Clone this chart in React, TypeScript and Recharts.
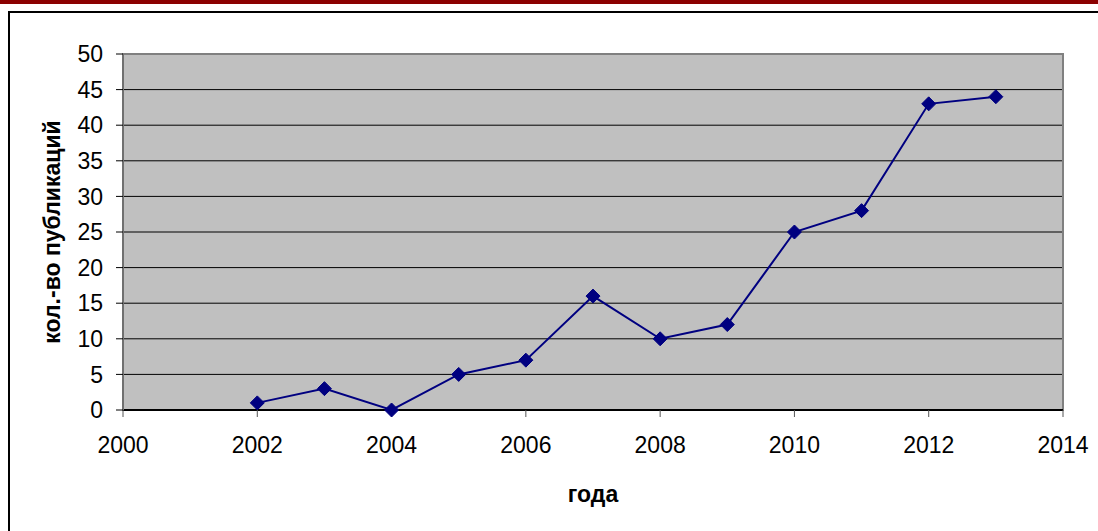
import React from "react";
import {
  LineChart,
  Line,
  XAxis,
  YAxis,
  CartesianGrid,
  ReferenceArea,
  Label,
} from "recharts";

const years = [2002, 2003, 2004, 2005, 2006, 2007, 2008, 2009, 2010, 2011, 2012, 2013];
const publications = [1, 3, 0, 5, 7, 16, 10, 12, 25, 28, 43, 44];
const xTicks = [2000, 2002, 2004, 2006, 2008, 2010, 2012, 2014];
const yTicks = [0, 5, 10, 15, 20, 25, 30, 35, 40, 45, 50];
const gridValues = [5, 10, 15, 20, 25, 30, 35, 40, 45];
const xTitle = "года";
const yTitle = "кол.-во публикаций";

const data = years.map((y, i) => ({ year: y, value: publications[i] }));

const FONT = "'Liberation Sans', Arial, sans-serif";

const Diamond = (props: any) => {
  const { cx, cy } = props;
  if (cx == null || cy == null) return null;
  const r = 7;
  return (
    <polygon
      points={`${cx},${cy - r} ${cx + r},${cy} ${cx},${cy + r} ${cx - r},${cy}`}
      fill="#000080"
      stroke="#000080"
      strokeWidth={1}
    />
  );
};

export default function App() {
  return (
    <div
      style={{
        position: "absolute",
        left: 0,
        top: 0,
        width: 1098,
        height: 531,
        background: "#fff",
        overflow: "hidden",
      }}
    >
      <div
        style={{
          position: "absolute",
          left: 0,
          top: 0,
          width: 1098,
          height: 4,
          background: "#8B0000",
        }}
      />
      <div
        style={{
          position: "absolute",
          left: 8,
          top: 11,
          width: 1200,
          height: 600,
          borderLeft: "2px solid #000",
          borderTop: "2px solid #000",
        }}
      />
      <div style={{ position: "absolute", left: 0, top: 0 }}>
        <LineChart
          width={1098}
          height={531}
          data={data}
          margin={{ top: 54, right: 35, left: 8, bottom: 0 }}
        >
          <CartesianGrid
            vertical={false}
            horizontalValues={gridValues}
            stroke="#000"
            strokeWidth={1}
            fill="#C0C0C0"
            fillOpacity={1}
          />
          <ReferenceArea
            x1={2000}
            x2={2014}
            y1={0}
            y2={50}
            fill="none"
            stroke="#808080"
            strokeWidth={2}
            ifOverflow="visible"
          />
          <XAxis
            type="number"
            dataKey="year"
            domain={[2000, 2014]}
            ticks={xTicks}
            interval={0}
            height={121}
            tickSize={7}
            tickMargin={20}
            axisLine={{ stroke: "#000", strokeWidth: 2 }}
            tickLine={{ stroke: "#555" }}
            tick={{ fill: "#000", fontSize: 23, fontFamily: FONT }}
          >
            <Label
              content={(p: any) => {
                const vb = p.viewBox;
                return (
                  <text
                    x={vb.x + vb.width / 2}
                    y={vb.y + 92}
                    textAnchor="middle"
                    fontSize={23}
                    fontWeight="bold"
                    fontFamily={FONT}
                    fill="#000"
                  >
                    {xTitle}
                  </text>
                );
              }}
            />
          </XAxis>
          <YAxis
            type="number"
            domain={[0, 50]}
            ticks={yTicks}
            interval={0}
            width={115}
            tickSize={7}
            tickMargin={13}
            axisLine={{ stroke: "#707070", strokeWidth: 2 }}
            tickLine={{ stroke: "#000" }}
            tick={{ fill: "#000", fontSize: 23, fontFamily: FONT }}
          >
            <Label
              content={(p: any) => {
                const vb = p.viewBox;
                const cx = 60;
                const cy = vb.y + vb.height / 2;
                return (
                  <text
                    x={cx}
                    y={cy}
                    transform={`rotate(-90 ${cx} ${cy})`}
                    textAnchor="middle"
                    fontSize={23}
                    fontWeight="bold"
                    fontFamily={FONT}
                    fill="#000"
                  >
                    {yTitle}
                  </text>
                );
              }}
            />
          </YAxis>
          <Line
            type="linear"
            dataKey="value"
            stroke="#000080"
            strokeWidth={2}
            dot={<Diamond />}
            activeDot={false}
            isAnimationActive={false}
          />
        </LineChart>
      </div>
    </div>
  );
}
